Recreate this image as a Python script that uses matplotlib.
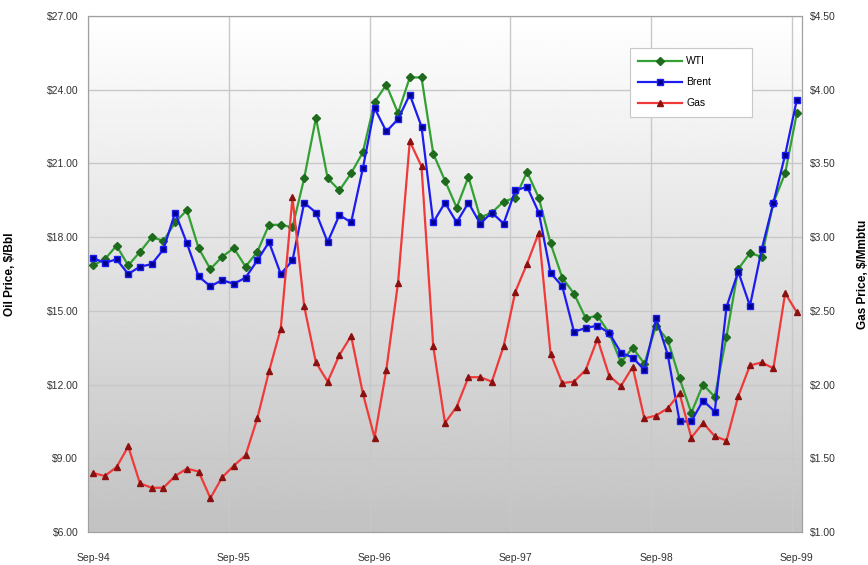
import numpy as np
import matplotlib
matplotlib.use('Agg')
import matplotlib.pyplot as plt

plt.rcParams['font.family'] = ['Liberation Sans', 'DejaVu Sans']

# Monthly prices, Sep-94 .. Sep-99
wti = [16.85, 17.1, 17.65, 16.85, 17.4, 18.0, 17.85, 18.6, 19.1, 17.55,
       16.7, 17.2, 17.55, 16.8, 17.4, 18.5, 18.5, 18.4, 20.4, 22.85,
       20.4, 19.9, 20.6, 21.45, 23.5, 24.2, 23.05, 24.5, 24.5, 21.4,
       20.3, 19.2, 20.45, 18.8, 19.0, 19.45, 19.6, 20.65, 19.6, 17.75,
       16.35, 15.7, 14.7, 14.8, 14.1, 12.9, 13.5, 12.85, 14.4, 13.8,
       12.25, 10.85, 12.0, 11.5, 13.95, 16.7, 17.35, 17.2, 19.4, 20.6,
       23.05]
brent = [17.15, 16.95, 17.1, 16.5, 16.8, 16.9, 17.5, 19.0, 17.75, 16.4,
         16.0, 16.25, 16.1, 16.35, 17.05, 17.8, 16.5, 17.05, 19.4, 19.0,
         17.8, 18.9, 18.6, 20.8, 23.25, 22.3, 22.8, 23.8, 22.5, 18.6,
         19.4, 18.6, 19.4, 18.55, 19.0, 18.55, 19.9, 20.05, 19.0, 16.55,
         16.0, 14.15, 14.3, 14.4, 14.1, 13.3, 13.1, 12.6, 14.7, 13.2,
         10.5, 10.5, 11.35, 10.9, 15.15, 16.6, 15.2, 17.5, 19.4, 21.35,
         23.6]
gas = [1.40, 1.38, 1.44, 1.58, 1.33, 1.30, 1.30, 1.38, 1.43, 1.41,
       1.23, 1.37, 1.45, 1.52, 1.77, 2.09, 2.38, 3.27, 2.53, 2.15,
       2.02, 2.20, 2.33, 1.94, 1.64, 2.10, 2.69, 3.65, 3.48, 2.26,
       1.74, 1.85, 2.05, 2.05, 2.02, 2.26, 2.63, 2.82, 3.03, 2.21,
       2.01, 2.02, 2.10, 2.31, 2.06, 1.99, 2.12, 1.77, 1.79, 1.84,
       1.94, 1.64, 1.74, 1.65, 1.62, 1.92, 2.13, 2.15, 2.11, 2.62,
       2.49]
xlabels = ['Sep-94', 'Sep-95', 'Sep-96', 'Sep-97', 'Sep-98', 'Sep-99']
oil_ticks = [6, 9, 12, 15, 18, 21, 24, 27]
gas_ticks = [1.0, 1.5, 2.0, 2.5, 3.0, 3.5, 4.0, 4.5]

months = np.arange(len(wti))

fig = plt.figure(figsize=(8.68, 5.65), dpi=100)
ax = fig.add_axes([0.1014, 0.0584, 0.8226, 0.9133])
ax2 = ax.twinx()

# grey gradient behind the plot
grad = np.linspace(1.0, 0.76, 256).reshape(-1, 1)
ax.imshow(grad, cmap='gray', vmin=0, vmax=1, aspect='auto',
          extent=[0, 1, 0, 1], transform=ax.transAxes, zorder=0)

ax.set_xlim(-0.43, 60.44)
ax.set_ylim(6, 27)
ax2.set_ylim(1, 4.5)

ax.set_xticks(months[::12])
ax.set_xticklabels(xlabels)
ax.set_xticks(months[::12] - 0.43, minor=True)
ax.set_yticks(oil_ticks)
ax.set_yticklabels(['\\$%.2f' % v for v in oil_ticks])
ax2.set_yticks(gas_ticks)
ax2.set_yticklabels(['\\$%.2f' % v for v in gas_ticks])

ax.grid(which='minor', axis='x', color='#c8c8c8', linewidth=1)
ax.grid(which='major', axis='y', color='#c8c8c8', linewidth=1)
ax.set_axisbelow(False)

for a in (ax, ax2):
    a.tick_params(which='both', length=0, labelsize=7.5, colors='#333333')
    for s in a.spines.values():
        s.set_color('#a0a0a0')
ax.tick_params(axis='x', pad=15)
ax.tick_params(axis='y', pad=7)
ax2.tick_params(axis='y', pad=6)

l1, = ax.plot(months, wti, color='#33a033', linewidth=1.6, marker='D',
              markersize=4, markerfacecolor='#1e6b1e', markeredgecolor='#1e6b1e',
              label='WTI', zorder=3)
l2, = ax.plot(months, brent, color='#1c1cf0', linewidth=1.6, marker='s',
              markersize=5, markerfacecolor='#00008c', markeredgecolor='#1c1cf0',
              label='Brent', zorder=4)
l3, = ax2.plot(months, gas, color='#f03a3a', linewidth=1.6, marker='^',
               markersize=5, markerfacecolor='#8b1010', markeredgecolor='#8b1010',
               label='Gas', zorder=3)

ax.set_ylabel('Oil Price, \\$/Bbl', fontsize=8.5, fontweight='bold',
              va='center')
ax.yaxis.set_label_coords(-0.109, 0.5)
ax2.set_ylabel('Gas Price, \\$/Mmbtu', fontsize=8.5, fontweight='bold',
               rotation=90, va='center')
ax2.yaxis.set_label_coords(1.086, 0.5)

leg = ax2.legend(handles=[l1, l2, l3], loc='upper left',
                 bbox_to_anchor=(0.759, 0.808, 0.171, 0.13), mode='expand',
                 fontsize=7.5, fancybox=False, framealpha=1,
                 edgecolor='#c8c8c8', borderpad=0.8, handlelength=4.2,
                 handletextpad=0.4, labelspacing=1.05, borderaxespad=0)
leg.get_frame().set_linewidth(0.8)

fig.savefig('out.png', dpi=100)
